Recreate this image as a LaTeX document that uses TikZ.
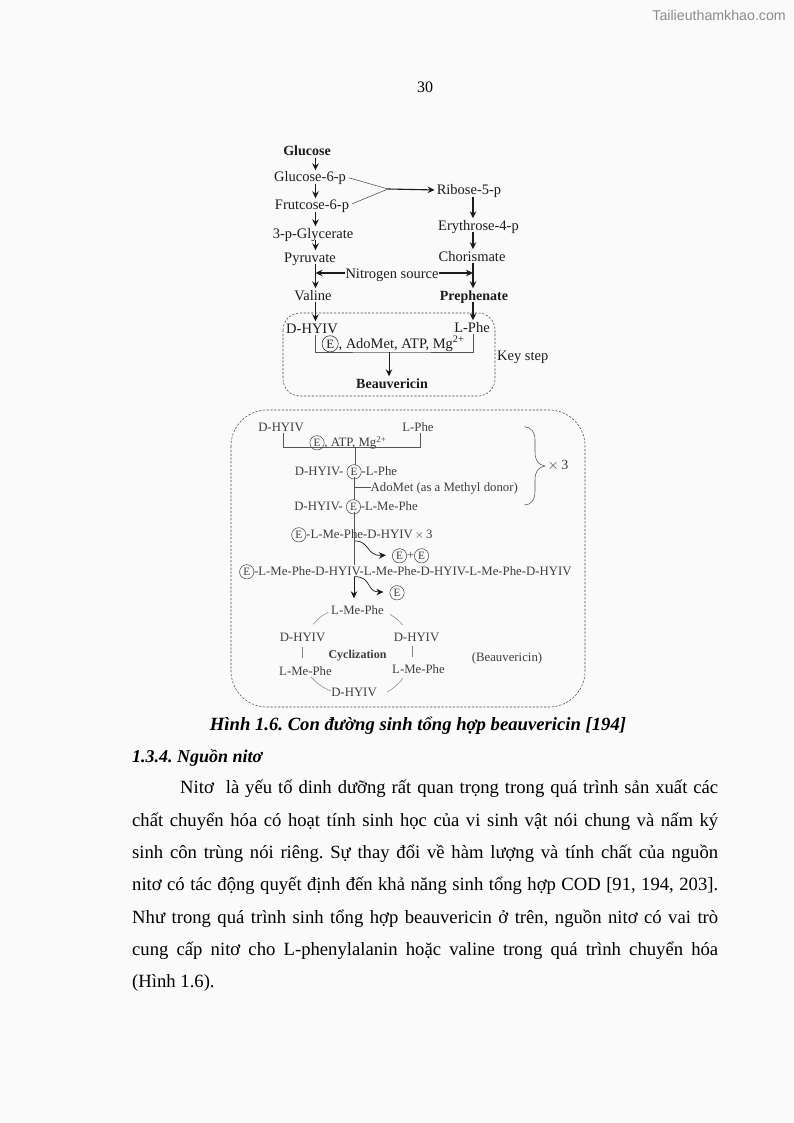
\documentclass[tikz,border=0pt]{standalone}
\usepackage{graphicx}
\usepackage{fontspec}
\setmainfont{Liberation Serif}
\newfontfamily\markfont{Liberation Sans}
\usetikzlibrary{arrows.meta,calc}
\frenchspacing
\newcommand{\enz}{\tikz[baseline=(enzE.base)]\node[draw,circle,line width=.5pt,inner sep=0pt,minimum size=1.12em] (enzE) {\scalebox{.88}{E}};}
\definecolor{pagebg}{HTML}{FAFAFA}
\definecolor{ink}{HTML}{1C1C1C}
\tikzset{
  up/.style={inner sep=0pt,text=ink,font=\fontsize{14.5}{16}\selectfont,text height=11.5pt,text depth=1.5pt},
  lo/.style={inner sep=0pt,text=ink!85,font=\fontsize{12.8}{14}\selectfont,text height=10pt,text depth=1pt},
  body/.style={inner sep=0pt,anchor=base west,text=black,font=\fontsize{18.67}{20}\selectfont},
  arr/.style={-{Stealth[length=7pt,width=6.5pt]},line width=1.1pt,draw=ink},
  thinl/.style={line width=.6pt,draw=ink!75},
  ringl/.style={line width=.5pt,draw=ink!55},
  dashbox/.style={line width=.55pt,draw=ink!80,dash pattern=on 2.2pt off 1.6pt},
}
\begin{document}
\begin{tikzpicture}[x=1pt,y=-1pt]
\useasboundingbox (0,0) rectangle (794,1123);
\fill[pagebg] (0,0) rectangle (794,1123);
% watermark and page number
\node[inner sep=0pt,anchor=east,text=black!45,font=\markfont\fontsize{14.2}{16}\selectfont] (wm) at (786,15) {Tailieuthamkhao.com};
\node[inner sep=0pt,font=\fontsize{16}{18}\selectfont] (pg) at (425,87) {30};

% ---------- upper scheme
\coordinate (colL) at (315.5,0);
\coordinate (colR) at (473,0);
\node[up,font=\bfseries\fontsize{14}{16}\selectfont] (glc) at (307,151) {Glucose};
\node[up] (g6p) at (310,177) {Glucose-6-p};
\node[up] (f6p) at (312,205) {Frutcose-6-p};
\node[up] (gly) at (313,233) {3-p-Glycerate};
\node[up] (pyr) at (310,257) {Pyruvate};
\node[up] (val) at (313,295) {Valine};
\node[up] (dh)  at (312,328) {D-HYIV};
\node[up] (rib) at (469,190) {Ribose-5-p};
\node[up] (ery) at (478.5,225) {Erythrose-4-p};
\node[up] (cho) at (472,256) {Chorismate};
\node[up,font=\bfseries\fontsize{14}{16}\selectfont] (pre) at (474,295) {Prephenate};
\node[up] (lph) at (472,327) {L-Phe};
\node[up] (nit) at (392,273) {Nitrogen source};
\node[up] (adm) at (393,343) {\enz, AdoMet, ATP, Mg\textsuperscript{2+}};
\node[up,font=\bfseries\fontsize{14}{16}\selectfont] (bea) at (392,383) {Beauvericin};
\node[up,anchor=west] (key) at (497,355) {Key step};

\foreach \a/\b in {glc/g6p,g6p/f6p,f6p/gly,gly/pyr,pyr/val,val/dh}
  \draw[arr] (colL |- \a.south) -- (colL |- \b.north);
\foreach \a/\b in {rib/ery,ery/cho,cho/pre,pre/lph}
  \draw[arr] (colR |- \a.south) -- (colR |- \b.north);
\draw[arr] (nit.west) -- (colL |- nit);
\draw[arr] (nit.east) -- (colR |- nit);
\coordinate (fj) at (388,189);
\draw[thinl,shorten <=3pt] (g6p.east) -- (fj);
\draw[thinl,shorten <=3pt] (f6p.east) -- (fj);
\draw[arr,shorten >=2pt] (fj) -- (rib.west);
\coordinate (kj) at (389,352);
\draw[thinl,line width=.8pt] (colL |- dh.south) |- (kj) -| (colR |- lph.south);
\draw[arr,line width=.8pt] (kj) -- (kj |- bea.north);
\draw[dashbox,rounded corners=17pt] (283,313) rectangle (495,396);

% ---------- lower scheme
\draw[dashbox,rounded corners=36pt] (231,410) rectangle (585,707);
\node[lo] (ld) at (281,427) {D-HYIV};
\node[lo] (lp) at (418,427) {L-Phe};
\node[lo] (atp) at (348,442) {\enz, ATP, Mg\textsuperscript{2+}};
\node[lo] (c1) at (346,471) {D-HYIV- \enz -L-Phe};
\node[lo,anchor=west] (ado) at (370.5,487) {AdoMet (as a Methyl donor)};
\node[lo] (c2) at (356,506) {D-HYIV- \enz -L-Me-Phe};
\node[lo] (c3) at (362,534) {\enz -L-Me-Phe-D-HYIV$\,\times\,$3};
\node[lo] (ee) at (410.5,555) {\enz+\enz};
\node[lo] (lng) at (405.5,571) {\enz -L-Me-Phe-D-HYIV-L-Me-Phe-D-HYIV-L-Me-Phe-D-HYIV};
\node[lo] (e1) at (397,592) {\enz};
\node[lo] (r1) at (357.5,610) {L-Me-Phe};
\node[lo] (r2) at (302.5,637) {D-HYIV};
\node[lo] (r3) at (416.5,637) {D-HYIV};
\node[lo,font=\bfseries\fontsize{12}{14}\selectfont] (cyc) at (357.5,654) {Cyclization};
\node[lo] (r4) at (305.5,671) {L-Me-Phe};
\node[lo] (r5) at (418.5,669) {L-Me-Phe};
\node[lo] (r6) at (354,692) {D-HYIV};
\node[lo] (bcn) at (507,657) {(Beauvericin)};
\node[lo,font=\fontsize{14}{15}\selectfont] (t3) at (558,465) {$\times$\,3};

\coordinate (lnA) at (354,0);
\coordinate (brJ) at (355.7,447.3);
\draw[thinl] ($(ld.south)+(2,0)$) |- (brJ) -| ($(lp.south)+(2,0)$);
\draw[thinl] (brJ) -- (brJ |- c1.north);
\draw[thinl] (lnA |- c1.south) -- (lnA |- c2.north);
\draw[thinl] (lnA |- ado) -- (ado.west);
\draw[thinl] (lnA |- c2.south) -- (lnA |- lng.north);
\draw[arr,line width=.7pt,shorten >=6pt] (lnA |- lng.south) -- (lnA |- r1.north);
\draw[arr,line width=.7pt,shorten >=6pt] (355,541) .. controls (370,541) and (366,556) .. (ee.west);
\draw[arr,line width=.7pt,shorten >=6pt] (lnA |- lng.south) .. controls (372,576) and (366,592) .. (e1.west);

% ring arcs
\draw[ringl] (328.3,612.3) to[bend right=12] (313.3,624.3);
\draw[ringl] (390,614.3) to[bend left=8] (402.7,625);
\draw[ringl] (302.7,647) -- (302.7,658);
\draw[ringl] (412.7,646) -- (412.7,657);
\draw[ringl] (311,677) to[bend right=12] (331,691);
\draw[ringl] (387,692) to[bend right=12] (403,678);

% repeat brace
\draw[thinl,line width=.55pt] (524.3,426.7) .. controls (531,427) and (535,432) .. (535,440)
  -- (535,452) .. controls (535,460) and (538,465) .. (545,466)
  .. controls (538,467) and (535,472) .. (535,480)
  -- (535,491) .. controls (535,500) and (531,505) .. (524.3,505);

% ---------- caption and body text
\node[inner sep=0pt,anchor=base,font=\bfseries\itshape\fontsize{18.67}{20}\selectfont] (cap) at (418,730) {Hình 1.6. Con đường sinh tổng hợp beauvericin [194]};
\node[body,font=\bfseries\itshape\fontsize{18}{20}\selectfont] (hd) at (132,762) {1.3.4. Nguồn nitơ};
\node[body] (l1) at (180,793) {\makebox[538pt][s]{Nitơ\ \ là yếu tố dinh dưỡng rất quan trọng trong quá trình sản xuất các}};
\node[body] (l2) at (132,826) {\makebox[586pt][s]{chất chuyển hóa có hoạt tính sinh học của vi sinh vật nói chung và nấm ký}};
\node[body] (l3) at (132,858) {\makebox[586pt][s]{sinh côn trùng nói riêng. Sự thay đổi về hàm lượng và tính chất của nguồn}};
\node[body] (l4) at (132,890) {\makebox[586pt][s]{nitơ có tác động quyết định đến khả năng sinh tổng hợp COD [91, 194, 203].}};
\node[body] (l5) at (132,923) {\makebox[586pt][s]{Như trong quá trình sinh tổng hợp beauvericin ở trên, nguồn nitơ có vai trò}};
\node[body] (l6) at (132,955) {\makebox[586pt][s]{cung cấp nitơ cho L-phenylalanin hoặc valine trong quá trình chuyển hóa}};
\node[body] (l7) at (132,987) {(Hình 1.6).};
\end{tikzpicture}
\end{document}
